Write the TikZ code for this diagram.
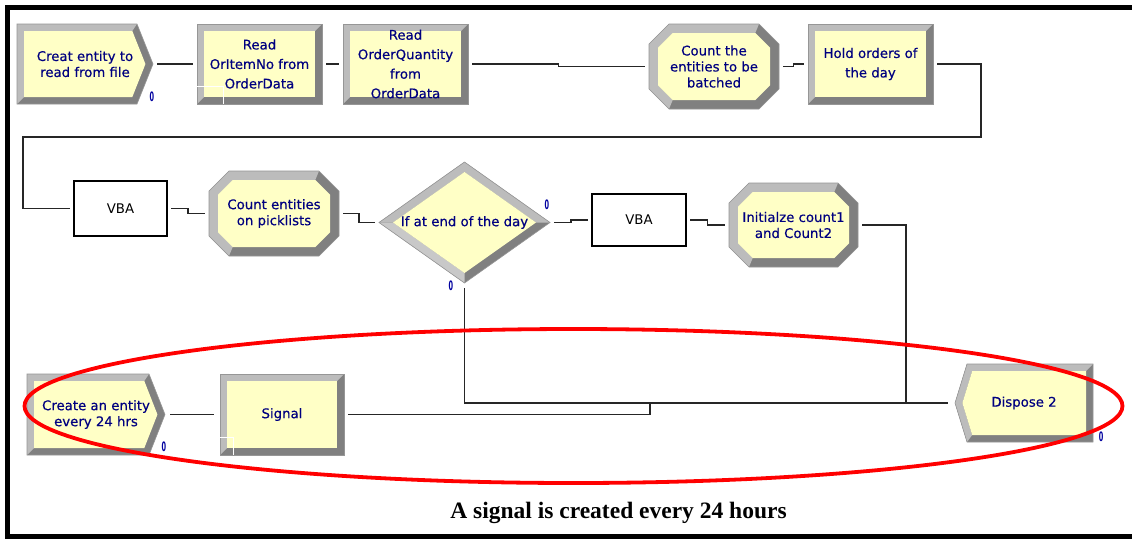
\documentclass[tikz,border=0pt]{standalone}
\usepackage{graphicx}
\usepackage{fontspec}
\setmainfont{DejaVu Sans}
\newfontfamily\modfont{DejaVu Sans}[FakeBold=0.4]
\newfontfamily\capfont{Liberation Serif}
\usetikzlibrary{calc}
\pgfdeclarelayer{background}
\pgfsetlayers{background,main}

\definecolor{modfill}{RGB}{255,255,198}
\definecolor{bevlight}{RGB}{188,188,188}
\definecolor{bevmid}{RGB}{200,200,200}
\definecolor{bevdark}{RGB}{128,128,128}
\definecolor{bevedge}{RGB}{150,150,150}
\definecolor{modtext}{RGB}{0,0,128}
\definecolor{cntblue}{RGB}{0,0,160}
\definecolor{ringred}{RGB}{255,0,0}

% bevel widths, chevron depths, octagon chamfer, diamond insets
\def\bw{7pt}
\def\ob{9pt}
\def\cd{16pt}
\def\dd{12pt}
\def\oc{20pt}
\def\dx{14pt}
\def\dy{10pt}

% bevelled rectangle (process / hold / signal)
\newcommand\procshape[1]{%
  \fill[bevdark] (#1.north west) rectangle (#1.south east);
  \fill[bevlight] (#1.north west) -- (#1.north east) -- ([shift={(-\bw,-\bw)}]#1.north east)
    -- ([shift={(\bw,\bw)}]#1.south west) -- (#1.south west) -- cycle;
  \fill[modfill] ([shift={(\bw,-\bw)}]#1.north west) rectangle ([shift={(-\bw,\bw)}]#1.south east);
  \draw[bevedge,line width=0.6pt] (#1.north west) rectangle (#1.south east);}

% create module: box with a chevron on the right
\newcommand\createshape[1]{%
  \fill[bevdark] (#1.north west) -- ([xshift=-\cd]#1.north east) -- (#1.east)
    -- ([xshift=-\cd]#1.south east) -- (#1.south west) -- cycle;
  \fill[bevlight] (#1.north west) -- ([xshift=-\cd]#1.north east)
    -- ([shift={(-\cd-0.67*\bw,-\bw)}]#1.north east) -- ([shift={(\bw,\bw)}]#1.south west)
    -- (#1.south west) -- cycle;
  \fill[modfill] ([shift={(\bw,-\bw)}]#1.north west) -- ([shift={(-\cd-0.67*\bw,-\bw)}]#1.north east)
    -- ([xshift=-1.08*\bw]#1.east) -- ([shift={(-\cd-0.67*\bw,\bw)}]#1.south east)
    -- ([shift={(\bw,\bw)}]#1.south west) -- cycle;
  \draw[bevedge,line width=0.6pt] (#1.north west) -- ([xshift=-\cd]#1.north east) -- (#1.east)
    -- ([xshift=-\cd]#1.south east) -- (#1.south west) -- cycle;}

% dispose module: box with a chevron on the left
\newcommand\disposeshape[1]{%
  \fill[bevdark] (#1.west) -- ([xshift=\dd]#1.north west) -- (#1.north east) -- (#1.south east)
    -- ([xshift=\dd]#1.south west) -- cycle;
  \fill[bevlight] (#1.west) -- ([xshift=\dd]#1.north west) -- (#1.north east)
    -- ([shift={(-\bw,-\bw)}]#1.north east) -- ([shift={(\dd+0.74*\bw,-\bw)}]#1.north west)
    -- ([xshift=1.05*\bw]#1.west) -- ([shift={(\dd+0.74*\bw,\bw)}]#1.south west)
    -- ([xshift=\dd]#1.south west) -- cycle;
  \fill[modfill] ([shift={(\dd+0.74*\bw,-\bw)}]#1.north west) -- ([shift={(-\bw,-\bw)}]#1.north east)
    -- ([shift={(-\bw,\bw)}]#1.south east) -- ([shift={(\dd+0.74*\bw,\bw)}]#1.south west)
    -- ([xshift=1.05*\bw]#1.west) -- cycle;
  \draw[bevedge,line width=0.6pt] (#1.west) -- ([xshift=\dd]#1.north west) -- (#1.north east)
    -- (#1.south east) -- ([xshift=\dd]#1.south west) -- cycle;}

% count module: bevelled octagon
\newcommand\octshape[1]{%
  \fill[bevdark] ([xshift=\oc]#1.north west) -- ([xshift=-\oc]#1.north east) -- ([yshift=-\oc]#1.north east)
    -- ([yshift=\oc]#1.south east) -- ([xshift=-\oc]#1.south east) -- ([xshift=\oc]#1.south west)
    -- ([yshift=\oc]#1.south west) -- ([yshift=-\oc]#1.north west) -- cycle;
  \fill[bevlight] ([xshift=\oc]#1.south west) -- ([yshift=\oc]#1.south west) -- ([yshift=-\oc]#1.north west)
    -- ([xshift=\oc]#1.north west) -- ([xshift=-\oc]#1.north east)
    -- ([shift={(-\oc-0.414*\ob,-\ob)}]#1.north east) -- ([shift={(\oc+0.414*\ob,-\ob)}]#1.north west)
    -- ([shift={(\ob,-\oc-0.414*\ob)}]#1.north west) -- ([shift={(\ob,\oc+0.414*\ob)}]#1.south west)
    -- ([shift={(\oc+0.414*\ob,\ob)}]#1.south west) -- cycle;
  \fill[modfill] ([shift={(\oc+0.414*\ob,-\ob)}]#1.north west) -- ([shift={(-\oc-0.414*\ob,-\ob)}]#1.north east)
    -- ([shift={(-\ob,-\oc-0.414*\ob)}]#1.north east) -- ([shift={(-\ob,\oc+0.414*\ob)}]#1.south east)
    -- ([shift={(-\oc-0.414*\ob,\ob)}]#1.south east) -- ([shift={(\oc+0.414*\ob,\ob)}]#1.south west)
    -- ([shift={(\ob,\oc+0.414*\ob)}]#1.south west) -- ([shift={(\ob,-\oc-0.414*\ob)}]#1.north west) -- cycle;
  \draw[bevedge,line width=0.6pt] ([xshift=\oc]#1.north west) -- ([xshift=-\oc]#1.north east) -- ([yshift=-\oc]#1.north east)
    -- ([yshift=\oc]#1.south east) -- ([xshift=-\oc]#1.south east) -- ([xshift=\oc]#1.south west)
    -- ([yshift=\oc]#1.south west) -- ([yshift=-\oc]#1.north west) -- cycle;}

% decide module: bevelled diamond
\newcommand\decideshape[1]{%
  \fill[bevdark] (#1.north) -- (#1.east) -- (#1.south) -- (#1.west) -- cycle;
  \fill[bevlight] (#1.west) -- (#1.north) -- (#1.east) -- ([xshift=-\dx]#1.east)
    -- ([yshift=-\dy]#1.north) -- ([xshift=\dx]#1.west) -- cycle;
  \fill[bevmid] (#1.west) -- ([xshift=\dx]#1.west) -- ([yshift=\dy]#1.south) -- (#1.south) -- cycle;
  \fill[modfill] ([yshift=-\dy]#1.north) -- ([xshift=-\dx]#1.east) -- ([yshift=\dy]#1.south)
    -- ([xshift=\dx]#1.west) -- cycle;
  \draw[bevedge,line width=0.6pt] (#1.north) -- (#1.east) -- (#1.south) -- (#1.west) -- cycle;}

% connector with one small step half-way
\newcommand\stepconn[2]{\draw[conn] (#1) -| ($(#1)!0.5!(#2)$) |- (#2);}

\begin{document}
\begin{tikzpicture}[x=1pt,y=-1pt,
  module/.style={rectangle, inner sep=0pt, outer sep=0pt, align=center, text=modtext,
    font=\modfont\fontsize{13.3}{16}\selectfont},
  tall/.style={font=\modfont\fontsize{13.3}{19.5}\selectfont},
  vbabox/.style={rectangle, draw=black, line width=1.1pt, fill=white, inner sep=0pt,
    outer sep=0pt, text=black, font=\fontsize{13.3}{16}\selectfont},
  counter/.style={inner sep=0pt, text=cntblue, font=\bfseries\fontsize{13}{13}\selectfont},
  conn/.style={draw=black!85, line width=1.1pt, shorten <=4pt, shorten >=4pt},
  ring/.style={draw=ringred, line width=3.8pt},
  caption/.style={inner sep=0pt, font=\capfont\bfseries\fontsize{23.5}{28}\selectfont},
  joinmark/.style={draw=white, line width=1pt}]

\useasboundingbox (0,0) rectangle (1132,539);

% outer frame
\fill[black] (5,5) rectangle (1132,10);
\fill[black] (5,5) rectangle (10,539);
\fill[black] (5,534) rectangle (1132,539);

% first row
\node[module, minimum width=136pt, minimum height=80pt] (c1) at (85,64) {Creat entity to\\read from file};
\node[module, tall, minimum width=125pt, minimum height=80pt] (r1) at (259.5,64) {Read\\OrItemNo from\\OrderData};
\node[module, tall, minimum width=125pt, minimum height=80pt] (r2) at (405.5,64) {Read\\OrderQuantity\\from\\OrderData};
\node[module, minimum width=130pt, minimum height=85pt] (cnt1) at (714,66.5) {Count the\\entities to be\\batched};
\node[module, tall, minimum width=125pt, minimum height=80pt] (hold) at (870.5,64) {Hold orders of\\the day};

% second row
\node[vbabox, minimum width=93pt, minimum height=55pt] (vba1) at (120.5,208.5) {VBA};
\node[module, minimum width=130pt, minimum height=85pt] (cnt2) at (274,213.5) {Count entities\\on picklists};
\node[module, minimum width=171pt, minimum height=121pt] (dia) at (464.5,222.5) {If at end of the day};
\node[vbabox, minimum width=94pt, minimum height=52pt] (vba2) at (639,220) {VBA};
\node[module, minimum width=129pt, minimum height=84pt] (init) at (793.5,225) {Initialze count1\\and Count2};

% third row
\node[module, minimum width=138pt, minimum height=81pt] (c2) at (96,414.5) {Create an entity\\every 24 hrs};
\node[module, minimum width=124pt, minimum height=81pt] (sig) at (282,414.5) {Signal};
\node[module, minimum width=138pt, minimum height=78pt] (disp) at (1024,403) {Dispose 2};

% entity counters
\node[counter] (c1n) at (152,97) {\scalebox{0.5}[1]{0}};
\node[counter] (dian) at (547,205) {\scalebox{0.5}[1]{0}};
\node[counter] (diasn) at (451,286) {\scalebox{0.5}[1]{0}};
\node[counter] (c2n) at (164,447) {\scalebox{0.5}[1]{0}};
\node[counter] (dispn) at (1101,437) {\scalebox{0.5}[1]{0}};

% module bodies
\begin{pgfonlayer}{background}
  \fill[white] (0,0) rectangle (1132,539);
  \createshape{c1}
  \procshape{r1}
  \procshape{r2}
  \octshape{cnt1}
  \procshape{hold}
  \octshape{cnt2}
  \decideshape{dia}
  \octshape{init}
  \createshape{c2}
  \procshape{sig}
  \disposeshape{disp}
\end{pgfonlayer}

% connection markers
\draw[joinmark] ([yshift=18pt]r1.south west) -- ++(26pt,0pt) -- ([xshift=26pt]r1.south west);
\draw[joinmark] ([yshift=18pt]sig.south west) -- ++(13pt,0pt) -- ([xshift=13pt]sig.south west);

% bend points
\coordinate (rtop) at (981,137);
\coordinate (ltop) at (23,137);
\coordinate (jR) at (906,403);
\coordinate (jS) at (650,403);

% connectors
\draw[conn] (c1.east) -- (r1.west);
\draw[conn] (r1.east) -- (r2.west);
\stepconn{r2.east}{cnt1.west}
\stepconn{cnt1.east}{hold.west}
\draw[conn] (hold.east) -| (rtop) -- (ltop) |- (vba1.west);
\stepconn{vba1.east}{cnt2.west}
\stepconn{cnt2.east}{dia.west}
\stepconn{dia.east}{vba2.west}
\stepconn{vba2.east}{init.west}
\draw[conn, shorten <=5pt, shorten >=7pt] (dia.south) |- (disp.west);
\draw[conn, shorten >=0pt] (init.east) -| (jR);
\draw[conn, shorten >=0pt] (sig.east) -| (jS);
\draw[conn, shorten <=5pt, shorten >=6pt] (c2.east) -- (sig.west);

% red ring round the signal part
\coordinate (ringc) at (573.5,406);
\draw[ring] (ringc) ellipse [x radius=549pt, y radius=77pt];

\node[caption, anchor=base] (cap) at (618.5,518) {A signal is created every 24 hours};
\end{tikzpicture}
\end{document}
